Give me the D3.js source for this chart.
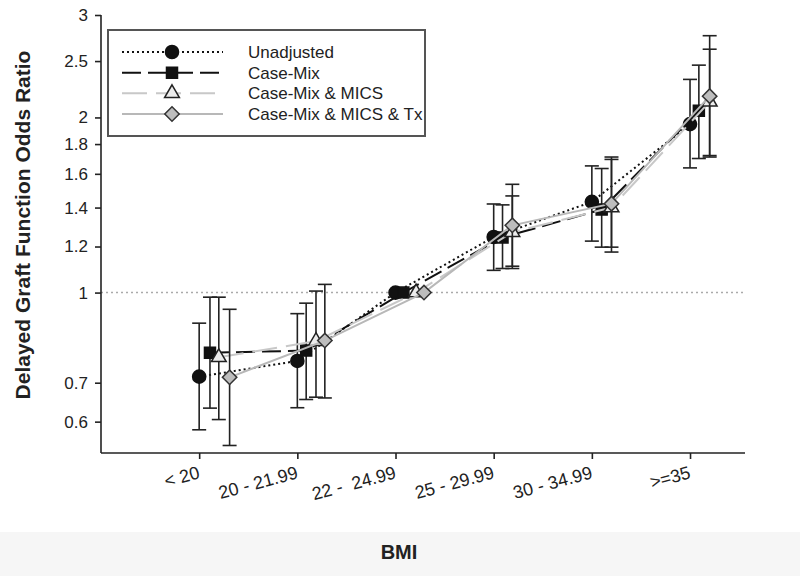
<!DOCTYPE html>
<html>
<head>
<meta charset="utf-8">
<script src="https://cdn.jsdelivr.net/npm/d3@7"></script>
<style>
body { margin: 0; background: #fff; }
text { font-family: Arial, "Liberation Sans", sans-serif; fill: #222; }
</style>
</head>
<body>
<svg id="chart" width="800" height="576"></svg>
<script>
// categories on the x axis (plotted at 1..6)
var categories = ["< 20", "20 - 21.99", "22 -  24.99", "25 - 29.99", "30 - 34.99", ">=35"];
var catPos = [1, 2, 3, 4, 5, 6];
var yTicks = [0.6, 0.7, 1, 1.2, 1.4, 1.6, 1.8, 2, 2.5, 3];
var seriesNames = ["Unadjusted", "Case-Mix", "Case-Mix & MICS", "Case-Mix & MICS & Tx"];

// odds ratios with 95% CI, and the x shift of each series inside a group
var unadjOR = [0.717, 0.763, 1, 1.246, 1.432, 1.948];
var unadjLo = [0.581, 0.634, null, 1.092, 1.226, 1.638];
var unadjHi = [0.886, 0.920, null, 1.420, 1.651, 2.325];
var unadjShift = [0, 0, 0, 0, 0, 0];

var caseMixOR = [0.788, 0.795, 1, 1.244, 1.389, 2.053];
var caseMixLo = [0.633, 0.655, null, 1.100, 1.197, 1.700];
var caseMixHi = [0.982, 0.959, null, 1.415, 1.634, 2.460];
var caseMixShift = [0.11, 0.09, 0.08, 0.09, 0.1, 0.09];

var micsOR = [0.774, 0.825, 1, 1.27, 1.40, 2.128];
var micsLo = [0.605, 0.661, null, 1.110, 1.197, 1.720];
var micsHi = [0.982, 1.006, null, 1.466, 1.694, 2.620];
var micsShift = [0.2, 0.19, 0.21, 0.19, 0.2, 0.2];

var txOR = [0.715, 0.827, 1, 1.305, 1.422, 2.176];
var txLo = [0.546, 0.659, null, 1.100, 1.174, 1.710];
var txHi = [0.936, 1.033, null, 1.535, 1.710, 2.764];
var txShift = [0.31, 0.28, 0.29, 0.19, 0.2, 0.2];

function makeSeries(name, or, lo, hi, shift) {
    return catPos.map(function (p, i) {
        return {name: name, x: p + shift[i], or: or[i], lo: lo[i], hi: hi[i]};
    });
}

var series = [
    {name: seriesNames[0], pts: makeSeries(seriesNames[0], unadjOR, unadjLo, unadjHi, unadjShift),
        stroke: "#111", dash: "2,3", symbol: d3.symbolCircle, size: 135, fill: "#111", mstroke: "#111", rot: 0},
    {name: seriesNames[1], pts: makeSeries(seriesNames[1], caseMixOR, caseMixLo, caseMixHi, caseMixShift),
        stroke: "#111", dash: "19,7", symbol: d3.symbolSquare, size: 121, fill: "#111", mstroke: "#111", rot: 0},
    {name: seriesNames[2], pts: makeSeries(seriesNames[2], micsOR, micsLo, micsHi, micsShift),
        stroke: "#c8c8c8", dash: "25,9", symbol: d3.symbolTriangle, size: 95, fill: "#ececec", mstroke: "#222", rot: 0},
    {name: seriesNames[3], pts: makeSeries(seriesNames[3], txOR, txLo, txHi, txShift),
        stroke: "#b8b8b8", dash: null, symbol: d3.symbolSquare, size: 104, fill: "#bdbdbd", mstroke: "#333", rot: 45}
];

var svg = d3.select("#chart");

// faint band at the bottom of the scan
svg.append("rect").attr("x", 0).attr("y", 532).attr("width", 800).attr("height", 44).attr("fill", "#f6f6f6");

var x = d3.scaleLinear().domain([0, 6.56]).range([101, 745]);
var y = d3.scaleLog().domain([0.53, 3]).range([453, 15]);

// reference line at 1
svg.append("line")
    .attr("x1", x(0)).attr("x2", x(6.56))
    .attr("y1", y(1)).attr("y2", y(1))
    .attr("stroke", "#aaa").attr("stroke-width", 1.5).attr("stroke-dasharray", "2,3");

// axes
var yAxis = d3.axisLeft(y).tickValues(yTicks).tickSize(6).tickPadding(7).tickFormat(d3.format("~g"));
var gy = svg.append("g").attr("transform", "translate(" + x(0) + ",0)").call(yAxis);
gy.select(".domain").attr("stroke", "#222").attr("stroke-width", 1.6).attr("d", "M0," + y(0.53) + "V" + y(3));
gy.selectAll(".tick line").attr("stroke", "#222").attr("stroke-width", 1.6);
gy.selectAll(".tick text").style("font-size", "17px").attr("fill", "#222");

var xAxis = d3.axisBottom(x).tickValues(catPos).tickSize(6).tickFormat(function (d, i) { return categories[i]; });
var gx = svg.append("g").attr("transform", "translate(0," + y(0.53) + ")").call(xAxis);
gx.select(".domain").attr("stroke", "#222").attr("stroke-width", 1.6).attr("d", "M" + x(0) + ",0H" + x(6.56));
gx.selectAll(".tick line").attr("stroke", "#222").attr("stroke-width", 1.6);
gx.selectAll(".tick text")
    .style("font-size", "18px").style("white-space", "pre").attr("fill", "#222")
    .attr("text-anchor", "end")
    .attr("dy", null).attr("y", 25).attr("x", 1)
    .attr("transform", "rotate(-15, 1, 25)");

// series: line, error bars, markers
var line = d3.line().x(function (d) { return x(d.x); }).y(function (d) { return y(d.or); });

series.forEach(function (s) {
    var g = svg.append("g");
    g.append("path")
        .attr("d", line(s.pts))
        .attr("fill", "none")
        .attr("stroke", s.stroke)
        .attr("stroke-width", 2)
        .attr("stroke-dasharray", s.dash);

    var bars = s.pts.filter(function (d) { return d.lo != null; });
    var eb = g.selectAll(".eb").data(bars).enter().append("g").attr("class", "eb")
        .attr("stroke", "#222").attr("stroke-width", 1.6);
    eb.append("line")
        .attr("x1", function (d) { return x(d.x); }).attr("x2", function (d) { return x(d.x); })
        .attr("y1", function (d) { return y(d.lo); }).attr("y2", function (d) { return y(d.hi); });
    eb.append("line")
        .attr("x1", function (d) { return x(d.x) - 7; }).attr("x2", function (d) { return x(d.x) + 7; })
        .attr("y1", function (d) { return y(d.lo); }).attr("y2", function (d) { return y(d.lo); });
    eb.append("line")
        .attr("x1", function (d) { return x(d.x) - 7; }).attr("x2", function (d) { return x(d.x) + 7; })
        .attr("y1", function (d) { return y(d.hi); }).attr("y2", function (d) { return y(d.hi); });

    g.selectAll(".mk").data(s.pts).enter().append("path").attr("class", "mk")
        .attr("d", d3.symbol().type(s.symbol).size(s.size))
        .attr("transform", function (d) { return "translate(" + x(d.x) + "," + y(d.or) + ") rotate(" + s.rot + ")"; })
        .attr("fill", s.fill).attr("stroke", s.mstroke).attr("stroke-width", 1.5);
});

// legend
var legend = svg.append("g");
legend.append("rect")
    .attr("x", 108).attr("y", 30).attr("width", 317).attr("height", 106)
    .attr("fill", "#fff").attr("stroke", "#555").attr("stroke-width", 2);

var ly = d3.scalePoint().domain(seriesNames).range([52, 114]);
series.forEach(function (s) {
    var row = legend.append("g").attr("transform", "translate(0," + ly(s.name) + ")");
    row.append("line").attr("x1", 122).attr("x2", 223).attr("y1", 0).attr("y2", 0)
        .attr("stroke", s.stroke).attr("stroke-width", 2).attr("stroke-dasharray", s.dash);
    row.append("path")
        .attr("d", d3.symbol().type(s.symbol).size(s.size))
        .attr("transform", "translate(172,0) rotate(" + s.rot + ")")
        .attr("fill", s.fill).attr("stroke", s.mstroke).attr("stroke-width", 1.5);
    row.append("text").attr("x", 248).attr("y", 6).style("font-size", "17px").text(s.name);
});

// axis titles
svg.append("text")
    .attr("transform", "translate(30,225) rotate(-90)")
    .attr("text-anchor", "middle")
    .style("font-size", "21px").style("font-weight", "bold")
    .text("Delayed Graft Function Odds Ratio");

svg.append("text")
    .attr("x", 399).attr("y", 559)
    .attr("text-anchor", "middle")
    .style("font-size", "20px").style("font-weight", "bold")
    .text("BMI");
</script>
</body>
</html>
